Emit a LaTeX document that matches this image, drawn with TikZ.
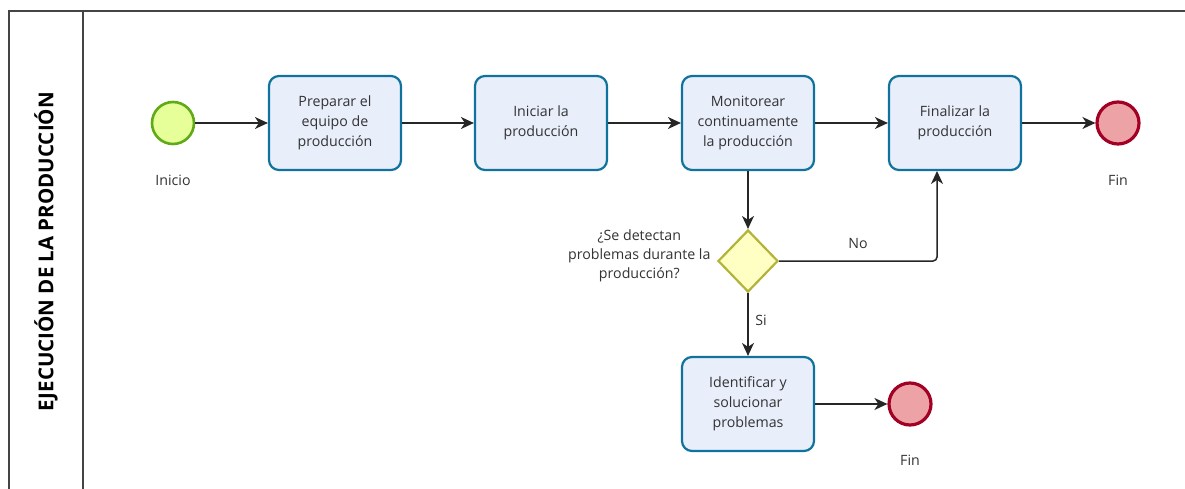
\documentclass[tikz,border=0pt]{standalone}
\usepackage{fontspec}
\setmainfont{Open Sans}
\usetikzlibrary{shapes.geometric,arrows.meta}
\definecolor{taskline}{HTML}{10739E}
\definecolor{taskfill}{HTML}{E9EEFB}
\definecolor{startline}{HTML}{60A917}
\definecolor{startfill}{HTML}{E6FF99}
\definecolor{endline}{HTML}{A20025}
\definecolor{endfill}{HTML}{EDA3A6}
\definecolor{gwline}{HTML}{B3B33A}
\definecolor{gwfill}{HTML}{FFFFC4}
\definecolor{txt}{HTML}{333333}
\definecolor{lane}{HTML}{444444}
\tikzset{
  task/.style={draw=taskline, fill=taskfill, line width=2.2pt, rounded corners=10pt,
    minimum width=132pt, minimum height=94pt, align=center, text=txt,
    font=\fontsize{14.2}{20}\selectfont, inner sep=2pt},
  startev/.style={circle, draw=startline, fill=startfill, line width=2.6pt, minimum size=42pt, inner sep=0pt},
  endev/.style={circle, draw=endline, fill=endfill, line width=3.2pt, minimum size=42pt, inner sep=0pt},
  gateway/.style={diamond, draw=gwline, fill=gwfill, line width=2.2pt, minimum width=60pt, minimum height=62pt, inner sep=0pt, aspect=1},
  lbl/.style={text=txt, font=\fontsize{14.2}{19}\selectfont, align=center},
  flow/.style={draw=black!85, line width=1.5pt, -{Stealth[length=13pt,width=12pt,inset=4pt]}},
}
\begin{document}
\begin{tikzpicture}[x=1pt,y=-1pt]
\useasboundingbox (0,0) rectangle (1185,489);
\fill[white] (0,0) rectangle (1185,489);

% pool and lane header
\draw[lane, line width=2pt] (9,495) -- (9,11) -- (1190,11);
\draw[lane, line width=2pt] (83,11) -- (83,495);
\node[rotate=90, text=black, font=\fontsize{20.5}{23}\bfseries\selectfont] (lanetitle) at (46,252) {EJECUCIÓN DE LA PRODUCCIÓN};

% events, tasks and gateway
\node[startev] (start) at (173,123) {};
\node[lbl] (startlbl) at (173,180) {Inicio};
\node[task] (t1) at (335,123) {Preparar el\\equipo de\\producción};
\node[task] (t2) at (541,123) {Iniciar la\\producción};
\node[task] (t3) at (748,123) {Monitorear\\continuamente\\la producción};
\node[task] (t4) at (955,123) {Finalizar la\\producción};
\node[endev] (end1) at (1118,123) {};
\node[lbl] (end1lbl) at (1118,180) {Fin};
\node[gateway] (gw) at (748,261) {};
\node[lbl, anchor=east] (gwlbl) at (714,256) {¿Se detectan\\problemas durante la\\producción?};
\node[task] (t5) at (748,404) {Identificar y\\solucionar\\problemas};
\node[endev] (end2) at (910,404) {};
\node[lbl] (end2lbl) at (910,460) {Fin};

% sequence flows
\draw[flow] (start) -- (t1);
\draw[flow] (t1) -- (t2);
\draw[flow] (t2) -- (t3);
\draw[flow] (t3) -- (t4);
\draw[flow] (t4) -- (end1);
\draw[flow] (t3) -- (gw);
\draw[flow, rounded corners=4pt] (gw.east) -- (937,261) -- (937,171);
\node[lbl] (nolbl) at (858,243) {No};
\draw[flow] (gw) -- (t5);
\node[lbl] (silbl) at (761,320) {Si};
\draw[flow] (t5) -- (end2);
\end{tikzpicture}
\end{document}
